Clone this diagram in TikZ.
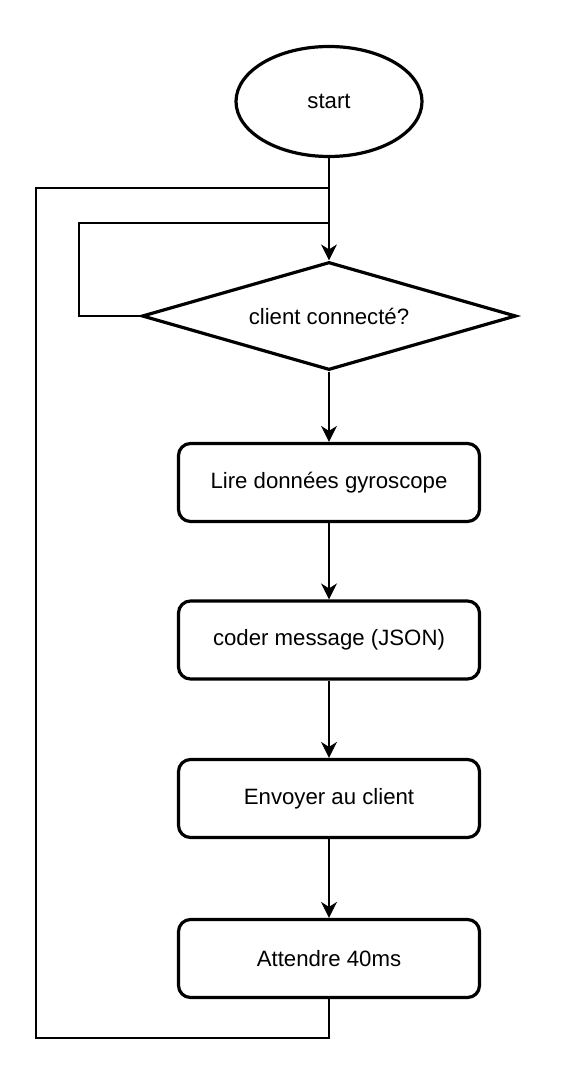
\documentclass[tikz,border=0pt]{standalone}
\usepackage{fontspec}
\setmainfont{Liberation Sans}
\usetikzlibrary{shapes.geometric,arrows.meta}
\begin{document}
\begin{tikzpicture}[x=1pt,y=-1pt,
  txt/.style={font=\fontsize{22.2}{26}\selectfont, text=black},
  box/.style={txt, draw, line width=3.2pt, rounded corners=12pt, minimum width=301pt, minimum height=78pt, inner sep=0pt},
  startnode/.style={txt, draw, ellipse, line width=3.2pt, minimum width=186pt, minimum height=110pt, inner sep=0pt},
  decnode/.style={txt, draw, diamond, aspect=3.46, line width=3.2pt, minimum width=374pt, minimum height=108pt, inner sep=0pt},
  conn/.style={line width=1.7pt},
  arr/.style={conn, -{Stealth[length=16pt,width=16pt,inset=5pt]}}]
\useasboundingbox (0,0) rectangle (561,1075);
\fill[white] (0,0) rectangle (561,1075);
\node[startnode] (start) at (329,101.5) {start};
\node[decnode] (dec) at (329,316) {client connecté?};
\node[box] (b1) at (329,482.5) {Lire données gyroscope};
\node[box] (b2) at (329,640) {coder message (JSON)};
\node[box] (b3) at (329,798.5) {Envoyer au client};
\node[box] (b4) at (329,958.5) {Attendre 40ms};
\coordinate (o1) at (36,1038);
\coordinate (o2) at (36,188);
\coordinate (j1) at (329,188);
\coordinate (i1) at (79,316);
\coordinate (i2) at (79,223);
\coordinate (j2) at (329,223);
\draw[arr] (start) -- (dec);
\draw[arr] (dec) -- (b1);
\draw[arr] (b1) -- (b2);
\draw[arr] (b2) -- (b3);
\draw[arr] (b3) -- (b4);
\draw[conn] (b4.south) |- (o1) -- (o2) -- (j1);
\draw[conn] (dec.west) -- (i1) -- (i2) -- (j2);
\end{tikzpicture}
\end{document}
